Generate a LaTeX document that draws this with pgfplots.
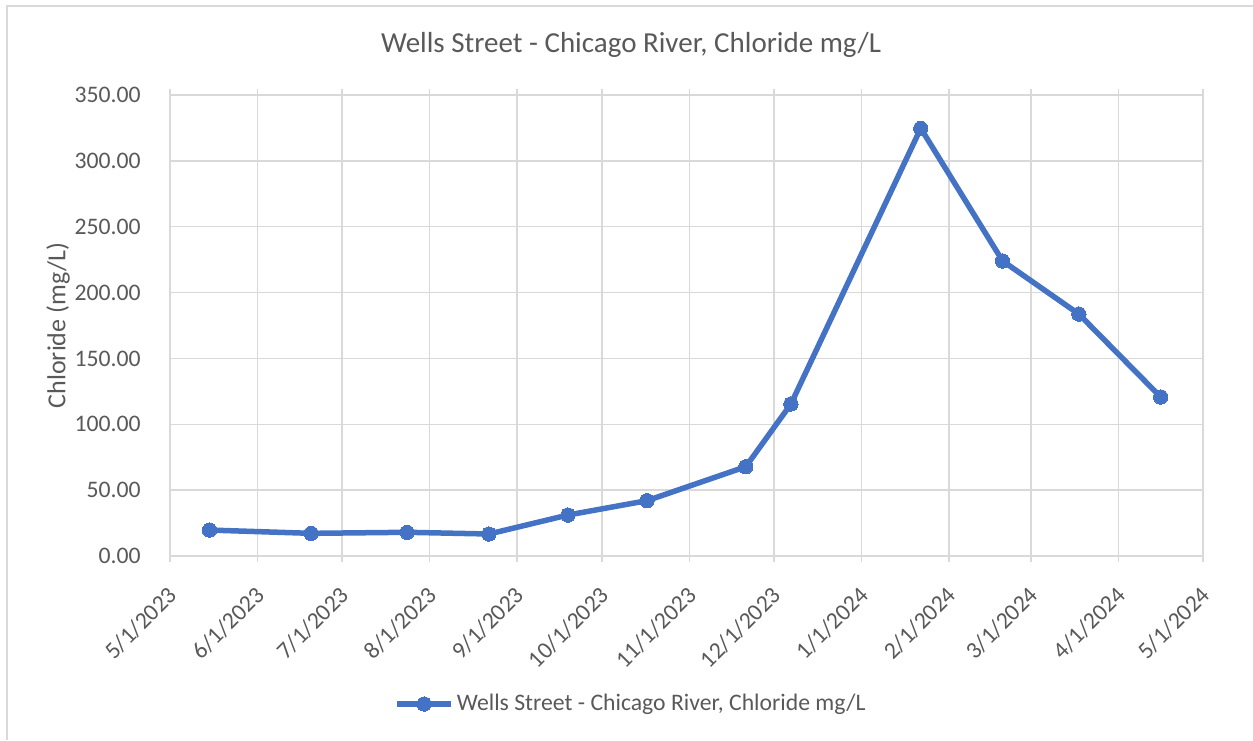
\documentclass[border=0pt]{standalone}
\usepackage{fontspec}
\setmainfont{Carlito}
\usepackage{pgfplots}
\pgfplotsset{compat=1.18}
\definecolor{lineblue}{HTML}{4472C4}
\definecolor{gridgray}{HTML}{D9D9D9}
\definecolor{textgray}{HTML}{595959}
\begin{document}
\begin{tikzpicture}
\path[use as bounding box] (0pt,0pt) rectangle (626.5pt,370pt);
\draw[gridgray, line width=0.75pt] (3.5pt,0pt) -- (3.5pt,367pt) -- (626.5pt,367pt);
\begin{axis}[
  at={(85pt,92pt)}, anchor=south west,
  scale only axis, width=516.5pt, height=230.5pt,
  xmin=0, xmax=366, ymin=0, ymax=350,
  xtick={0,31,61,92,123,153,184,214,245,276,305,336,366},
  xticklabels={5/1/2023,6/1/2023,7/1/2023,8/1/2023,9/1/2023,10/1/2023,11/1/2023,12/1/2023,1/1/2024,2/1/2024,3/1/2024,4/1/2024,5/1/2024},
  ytick={0,50,100,150,200,250,300,350},
  grid=major,
  major grid style={gridgray, line width=0.75pt},
  axis line style={gridgray, line width=0.75pt},
  tick align=outside,
  xtick style={gridgray, line width=0.75pt},
  major tick length=3pt,
  ytick style={draw=none},
  tick label style={font=\fontsize{11.85}{14}\selectfont, text=textgray, inner sep=0pt},
  xticklabel style={yshift=-14.5pt, xshift=1.5pt, rotate=45, anchor=east},
  yticklabel style={anchor=east, xshift=-11.5pt},
  /pgf/number format/assume math mode=true,
  yticklabel={\pgfmathprintnumber[fixed,fixed zerofill,precision=2,1000 sep={}]{\tick}},
  title={Wells Street - Chicago River, Chloride mg/L},
  title style={at={(axis description cs:0.4463,1.0911)}, anchor=base, yshift=-5.5pt, font=\fontsize{14.5}{17}\selectfont, text=textgray, inner sep=0pt},
  ylabel={Chloride (mg/L)},
  ylabel style={at={(axis description cs:-0.1084,0.5)}, rotate=0, anchor=center, font=\fontsize{13}{15}\selectfont, text=textgray, inner sep=0pt},
  legend style={at={(axis description cs:0.2168,-0.321)}, anchor=west, draw=none, fill=none, inner sep=0pt, font=\fontsize{11.85}{14}\selectfont, text=textgray, nodes={inner sep=1.5pt}},
  legend image code/.code={\draw[mark repeat=2,mark phase=2] plot coordinates {(0pt,0pt)(13.5pt,0pt)(27pt,0pt)};},
]
\addplot[lineblue, line width=2.75pt, mark=*, mark size=3.6pt, mark options={solid, fill=lineblue, draw=lineblue, line width=0pt}] coordinates {
(14,19.7) (50,17.2) (84,18.0) (113,16.7) (141,31.1) (169,42.0)
(204,67.8) (220,115.4) (266,324.7) (295,224.0) (322,183.7) (351,120.7)
};
\addlegendentry{Wells Street - Chicago River, Chloride mg/L}
\end{axis}
\end{tikzpicture}
\end{document}
